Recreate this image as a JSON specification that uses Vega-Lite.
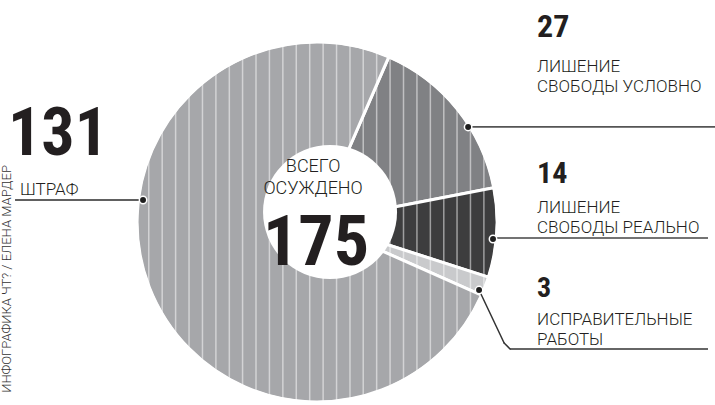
{
  "$schema": "https://vega.github.io/schema/vega-lite/v6.json",
  "width": 715,
  "height": 405,
  "padding": 0,
  "autosize": "none",
  "background": "#ffffff",
  "config": {"view": {"stroke": null}},
  "resolve": {"scale": {"theta": "independent"}},
  "datasets": {
    "slices": [
      {"cat": "27", "value": 27, "k": 1, "label": "ЛИШЕНИЕ\nСВОБОДЫ УСЛОВНО"},
      {"cat": "14", "value": 14, "k": 2, "label": "ЛИШЕНИЕ\nСВОБОДЫ РЕАЛЬНО"},
      {"cat": "3", "value": 3, "k": 3, "label": "ИСПРАВИТЕЛЬНЫЕ\nРАБОТЫ"},
      {"cat": "131", "value": 131, "k": 4, "label": "ШТРАФ"}
    ],
    "stripes": [
      {"sx": -0.940}, {"sx": -0.865}, {"sx": -0.790}, {"sx": -0.715}, {"sx": -0.640},
      {"sx": -0.565}, {"sx": -0.490}, {"sx": -0.416}, {"sx": -0.341}, {"sx": -0.266},
      {"sx": -0.191}, {"sx": -0.116}, {"sx": -0.041}, {"sx": 0.034}, {"sx": 0.109},
      {"sx": 0.184}, {"sx": 0.258}, {"sx": 0.333}, {"sx": 0.408}, {"sx": 0.483},
      {"sx": 0.558}, {"sx": 0.633}, {"sx": 0.708}, {"sx": 0.782}, {"sx": 0.857},
      {"sx": 0.932}
    ],
    "one": [{"a": 1}]
  },
  "layer": [
    {
      "data": {"name": "slices"},
      "mark": {"type": "arc", "outerRadius": 180, "innerRadius": 0, "stroke": "#ffffff", "strokeWidth": 3},
      "encoding": {
        "x": {"datum": 0, "type": "quantitative", "scale": {"domain": [-1.771, 2.223], "nice": false, "zero": false}, "axis": null},
        "y": {"datum": 0, "type": "quantitative", "scale": {"domain": [-1.022, 1.24], "nice": false, "zero": false}, "axis": null},
        "theta": {"field": "value", "type": "quantitative", "stack": true, "scale": {"range": [0.41, 6.6932]}},
        "order": {"field": "k", "type": "quantitative"},
        "color": {"field": "cat", "type": "nominal", "scale": {"domain": ["27", "14", "3", "131"], "range": ["#808184", "#3d3d3e", "#c9cacc", "#a6a7aa"]}, "legend": null}
      }
    },
    {
      "data": {"name": "stripes"},
      "mark": {"type": "rule", "color": "#ffffff", "opacity": 0.5, "strokeWidth": 1.5},
      "encoding": {
        "x": {"field": "sx", "type": "quantitative", "scale": {"domain": [-1.771, 2.223], "nice": false, "zero": false}, "axis": null},
        "y": {"datum": -1.01, "type": "quantitative", "scale": {"domain": [-1.022, 1.24], "nice": false, "zero": false}, "axis": null},
        "y2": {"datum": 1.01}
      }
    },
    {
      "data": {"name": "one"},
      "mark": {"type": "arc", "innerRadius": 179, "outerRadius": 480, "color": "#ffffff"},
      "encoding": {
        "x": {"datum": 0, "type": "quantitative", "scale": {"domain": [-1.771, 2.223], "nice": false, "zero": false}, "axis": null},
        "y": {"datum": 0, "type": "quantitative", "scale": {"domain": [-1.022, 1.24], "nice": false, "zero": false}, "axis": null},
        "theta": {"field": "a", "type": "quantitative", "stack": true}
      }
    },
    {
      "data": {"name": "one"},
      "mark": {"type": "arc", "innerRadius": 0, "outerRadius": 67, "color": "#ffffff"},
      "encoding": {
        "x": {"datum": 0.0726, "type": "quantitative", "scale": {"domain": [-1.771, 2.223], "nice": false, "zero": false}, "axis": null},
        "y": {"datum": 0.0559, "type": "quantitative", "scale": {"domain": [-1.022, 1.24], "nice": false, "zero": false}, "axis": null},
        "theta": {"field": "a", "type": "quantitative", "stack": true}
      }
    },
    {
      "data": {"name": "one"},
      "mark": {"type": "text", "text": "ВСЕГО\nОСУЖДЕНО", "lineBreak": "\n", "font": "Roboto", "fontWeight": 300, "fontSize": 18, "lineHeight": 22, "align": "center", "baseline": "alphabetic", "color": "#231f20"},
      "encoding": {
        "x": {"datum": -0.022, "type": "quantitative", "scale": {"domain": [-1.771, 2.223], "nice": false, "zero": false}, "axis": null},
        "y": {"datum": 0.279, "type": "quantitative", "scale": {"domain": [-1.022, 1.24], "nice": false, "zero": false}, "axis": null}
      }
    },
    {
      "data": {"name": "slices"},
      "transform": [{"aggregate": [{"op": "sum", "field": "value", "as": "total"}]}],
      "mark": {"type": "text", "font": "Roboto Condensed, Roboto", "fontWeight": "bold", "fontSize": 70, "align": "center", "baseline": "alphabetic", "color": "#231f20"},
      "encoding": {
        "x": {"datum": -0.006, "type": "quantitative", "scale": {"domain": [-1.771, 2.223], "nice": false, "zero": false}, "axis": null},
        "y": {"datum": -0.24, "type": "quantitative", "scale": {"domain": [-1.022, 1.24], "nice": false, "zero": false}, "axis": null},
        "text": {"field": "total", "type": "nominal"}
      }
    },
    {
      "data": {"name": "slices"},
      "transform": [{"filter": "datum.cat === '131'"}],
      "mark": {"type": "text", "font": "Roboto Condensed, Roboto", "fontWeight": "bold", "fontSize": 66, "align": "center", "baseline": "alphabetic", "color": "#231f20"},
      "encoding": {
        "x": {"datum": -1.447, "type": "quantitative", "scale": {"domain": [-1.771, 2.223], "nice": false, "zero": false}, "axis": null},
        "y": {"datum": 0.374, "type": "quantitative", "scale": {"domain": [-1.022, 1.24], "nice": false, "zero": false}, "axis": null},
        "text": {"field": "value", "type": "nominal"}
      }
    },
    {
      "data": {"name": "slices"},
      "transform": [{"filter": "datum.cat === '27'"}],
      "mark": {"type": "text", "font": "Roboto Condensed, Roboto", "fontWeight": "bold", "fontSize": 32, "align": "left", "baseline": "alphabetic", "color": "#231f20"},
      "encoding": {
        "x": {"datum": 1.229, "type": "quantitative", "scale": {"domain": [-1.771, 2.223], "nice": false, "zero": false}, "axis": null},
        "y": {"datum": 1.034, "type": "quantitative", "scale": {"domain": [-1.022, 1.24], "nice": false, "zero": false}, "axis": null},
        "text": {"field": "value", "type": "nominal"}
      }
    },
    {
      "data": {"name": "slices"},
      "transform": [{"filter": "datum.cat === '14'"}],
      "mark": {"type": "text", "font": "Roboto Condensed, Roboto", "fontWeight": "bold", "fontSize": 30, "align": "left", "baseline": "alphabetic", "color": "#231f20"},
      "encoding": {
        "x": {"datum": 1.229, "type": "quantitative", "scale": {"domain": [-1.771, 2.223], "nice": false, "zero": false}, "axis": null},
        "y": {"datum": 0.218, "type": "quantitative", "scale": {"domain": [-1.022, 1.24], "nice": false, "zero": false}, "axis": null},
        "text": {"field": "value", "type": "nominal"}
      }
    },
    {
      "data": {"name": "slices"},
      "transform": [{"filter": "datum.cat === '3'"}],
      "mark": {"type": "text", "font": "Roboto Condensed, Roboto", "fontWeight": "bold", "fontSize": 28, "align": "left", "baseline": "alphabetic", "color": "#231f20"},
      "encoding": {
        "x": {"datum": 1.229, "type": "quantitative", "scale": {"domain": [-1.771, 2.223], "nice": false, "zero": false}, "axis": null},
        "y": {"datum": -0.419, "type": "quantitative", "scale": {"domain": [-1.022, 1.24], "nice": false, "zero": false}, "axis": null},
        "text": {"field": "value", "type": "nominal"}
      }
    },
    {
      "data": {"name": "slices"},
      "transform": [{"filter": "datum.cat === '131'"}],
      "mark": {"type": "text", "lineBreak": "\n", "font": "Roboto", "fontWeight": 300, "fontSize": 17, "lineHeight": 20, "align": "left", "baseline": "alphabetic", "color": "#231f20"},
      "encoding": {
        "x": {"datum": -1.659, "type": "quantitative", "scale": {"domain": [-1.771, 2.223], "nice": false, "zero": false}, "axis": null},
        "y": {"datum": 0.151, "type": "quantitative", "scale": {"domain": [-1.022, 1.24], "nice": false, "zero": false}, "axis": null},
        "text": {"field": "label", "type": "nominal"}
      }
    },
    {
      "data": {"name": "slices"},
      "transform": [{"filter": "datum.cat === '27'"}],
      "mark": {"type": "text", "lineBreak": "\n", "font": "Roboto", "fontWeight": 300, "fontSize": 17, "lineHeight": 20, "align": "left", "baseline": "alphabetic", "color": "#231f20"},
      "encoding": {
        "x": {"datum": 1.229, "type": "quantitative", "scale": {"domain": [-1.771, 2.223], "nice": false, "zero": false}, "axis": null},
        "y": {"datum": 0.838, "type": "quantitative", "scale": {"domain": [-1.022, 1.24], "nice": false, "zero": false}, "axis": null},
        "text": {"field": "label", "type": "nominal"}
      }
    },
    {
      "data": {"name": "slices"},
      "transform": [{"filter": "datum.cat === '14'"}],
      "mark": {"type": "text", "lineBreak": "\n", "font": "Roboto", "fontWeight": 300, "fontSize": 17, "lineHeight": 20, "align": "left", "baseline": "alphabetic", "color": "#231f20"},
      "encoding": {
        "x": {"datum": 1.229, "type": "quantitative", "scale": {"domain": [-1.771, 2.223], "nice": false, "zero": false}, "axis": null},
        "y": {"datum": 0.05, "type": "quantitative", "scale": {"domain": [-1.022, 1.24], "nice": false, "zero": false}, "axis": null},
        "text": {"field": "label", "type": "nominal"}
      }
    },
    {
      "data": {"name": "slices"},
      "transform": [{"filter": "datum.cat === '3'"}],
      "mark": {"type": "text", "lineBreak": "\n", "font": "Roboto", "fontWeight": 300, "fontSize": 17, "lineHeight": 20, "align": "left", "baseline": "alphabetic", "color": "#231f20"},
      "encoding": {
        "x": {"datum": 1.229, "type": "quantitative", "scale": {"domain": [-1.771, 2.223], "nice": false, "zero": false}, "axis": null},
        "y": {"datum": -0.575, "type": "quantitative", "scale": {"domain": [-1.022, 1.24], "nice": false, "zero": false}, "axis": null},
        "text": {"field": "label", "type": "nominal"}
      }
    },
    {
      "data": {"name": "one"},
      "mark": {"type": "rule", "color": "#2b2b2b", "strokeWidth": 1.5},
      "encoding": {
        "x": {"datum": -1.687, "type": "quantitative", "scale": {"domain": [-1.771, 2.223], "nice": false, "zero": false}, "axis": null},
        "x2": {"datum": -0.972},
        "y": {"datum": 0.123, "type": "quantitative", "scale": {"domain": [-1.022, 1.24], "nice": false, "zero": false}, "axis": null}
      }
    },
    {
      "data": {"name": "one"},
      "mark": {"type": "rule", "color": "#555555", "strokeWidth": 1.8},
      "encoding": {
        "x": {"datum": 0.844, "type": "quantitative", "scale": {"domain": [-1.771, 2.223], "nice": false, "zero": false}, "axis": null},
        "x2": {"datum": 2.223},
        "y": {"datum": 0.531, "type": "quantitative", "scale": {"domain": [-1.022, 1.24], "nice": false, "zero": false}, "axis": null}
      }
    },
    {
      "data": {"name": "one"},
      "mark": {"type": "rule", "color": "#444444", "strokeWidth": 1.5},
      "encoding": {
        "x": {"datum": 0.983, "type": "quantitative", "scale": {"domain": [-1.771, 2.223], "nice": false, "zero": false}, "axis": null},
        "x2": {"datum": 2.184},
        "y": {"datum": -0.089, "type": "quantitative", "scale": {"domain": [-1.022, 1.24], "nice": false, "zero": false}, "axis": null}
      }
    },
    {
      "data": {"name": "one"},
      "mark": {"type": "rule", "color": "#333333", "strokeWidth": 1.5, "strokeCap": "round"},
      "encoding": {
        "x": {"datum": 0.905, "type": "quantitative", "scale": {"domain": [-1.771, 2.223], "nice": false, "zero": false}, "axis": null},
        "x2": {"datum": 1.045},
        "y": {"datum": -0.38, "type": "quantitative", "scale": {"domain": [-1.022, 1.24], "nice": false, "zero": false}, "axis": null},
        "y2": {"datum": -0.676}
      }
    },
    {
      "data": {"name": "one"},
      "mark": {"type": "rule", "color": "#333333", "strokeWidth": 1.5, "strokeCap": "round"},
      "encoding": {
        "x": {"datum": 1.045, "type": "quantitative", "scale": {"domain": [-1.771, 2.223], "nice": false, "zero": false}, "axis": null},
        "x2": {"datum": 1.078},
        "y": {"datum": -0.676, "type": "quantitative", "scale": {"domain": [-1.022, 1.24], "nice": false, "zero": false}, "axis": null},
        "y2": {"datum": -0.709}
      }
    },
    {
      "data": {"name": "one"},
      "mark": {"type": "rule", "color": "#333333", "strokeWidth": 1.5},
      "encoding": {
        "x": {"datum": 1.078, "type": "quantitative", "scale": {"domain": [-1.771, 2.223], "nice": false, "zero": false}, "axis": null},
        "x2": {"datum": 2.184},
        "y": {"datum": -0.709, "type": "quantitative", "scale": {"domain": [-1.022, 1.24], "nice": false, "zero": false}, "axis": null}
      }
    },
    {
      "data": {"name": "one"},
      "mark": {"type": "point", "filled": true, "size": 55, "color": "#1e1e1e", "stroke": "#ffffff", "strokeWidth": 1.5, "opacity": 1},
      "encoding": {
        "x": {"datum": -0.972, "type": "quantitative", "scale": {"domain": [-1.771, 2.223], "nice": false, "zero": false}, "axis": null},
        "y": {"datum": 0.123, "type": "quantitative", "scale": {"domain": [-1.022, 1.24], "nice": false, "zero": false}, "axis": null}
      }
    },
    {
      "data": {"name": "one"},
      "mark": {"type": "point", "filled": true, "size": 55, "color": "#1e1e1e", "stroke": "#ffffff", "strokeWidth": 1.5, "opacity": 1},
      "encoding": {
        "x": {"datum": 0.844, "type": "quantitative", "scale": {"domain": [-1.771, 2.223], "nice": false, "zero": false}, "axis": null},
        "y": {"datum": 0.531, "type": "quantitative", "scale": {"domain": [-1.022, 1.24], "nice": false, "zero": false}, "axis": null}
      }
    },
    {
      "data": {"name": "one"},
      "mark": {"type": "point", "filled": true, "size": 55, "color": "#1e1e1e", "stroke": "#ffffff", "strokeWidth": 1.5, "opacity": 1},
      "encoding": {
        "x": {"datum": 0.983, "type": "quantitative", "scale": {"domain": [-1.771, 2.223], "nice": false, "zero": false}, "axis": null},
        "y": {"datum": -0.095, "type": "quantitative", "scale": {"domain": [-1.022, 1.24], "nice": false, "zero": false}, "axis": null}
      }
    },
    {
      "data": {"name": "one"},
      "mark": {"type": "point", "filled": true, "size": 55, "color": "#1e1e1e", "stroke": "#ffffff", "strokeWidth": 1.5, "opacity": 1},
      "encoding": {
        "x": {"datum": 0.905, "type": "quantitative", "scale": {"domain": [-1.771, 2.223], "nice": false, "zero": false}, "axis": null},
        "y": {"datum": -0.38, "type": "quantitative", "scale": {"domain": [-1.022, 1.24], "nice": false, "zero": false}, "axis": null}
      }
    },
    {
      "data": {"name": "one"},
      "mark": {"type": "text", "text": "ИНФОГРАФИКА ЧТ? / ЕЛЕНА МАРДЕР", "angle": 270, "font": "Roboto", "fontWeight": 300, "fontSize": 13, "align": "center", "baseline": "middle", "color": "#333333"},
      "encoding": {
        "x": {"datum": -1.732, "type": "quantitative", "scale": {"domain": [-1.771, 2.223], "nice": false, "zero": false}, "axis": null},
        "y": {"datum": -0.318, "type": "quantitative", "scale": {"domain": [-1.022, 1.24], "nice": false, "zero": false}, "axis": null}
      }
    }
  ]
}
